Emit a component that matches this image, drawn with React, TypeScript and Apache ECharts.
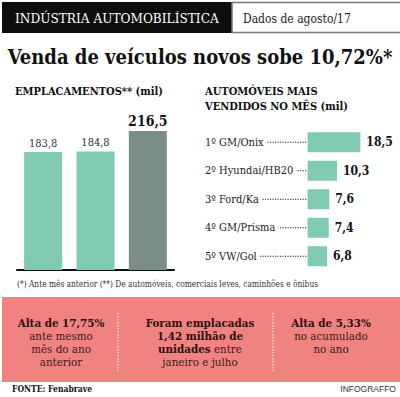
import React, { useEffect, useRef } from "react";
import * as echarts from "echarts";

const monthCategories = ["Ago/16", "Jul/16", "Ago/17"];
const monthValues = [183.8, 184.8, 216.5];
const carNames = ["1º GM/Onix", "2º Hyundai/HB20", "3º Ford/Ka", "4º GM/Prisma", "5º VW/Gol"];
const carValues = [18.5, 10.3, 7.6, 7.4, 6.8];

const SLAB = '"DejaVu Serif Condensed", "DejaVu Serif", serif';
const BODY = '"DejaVu Serif Condensed", "DejaVu Serif", serif';
const TEAL = "#80c9b2";
const GRAY = "#7b8d88";
const PINK = "#f0837f";
const fmt = (v: number) => v.toFixed(1).replace(".", ",");

export default function App() {
  const ref = useRef<HTMLDivElement>(null);
  useEffect(() => {
    if (!ref.current) return;
    const chart = echarts.init(ref.current, null, { renderer: "svg" });
    const xMinRight = -36;
    chart.setOption({
      animation: false,
      backgroundColor: "#ffffff",
      grid: [
        { left: 17, width: 157, top: 100, height: 170 },
        { left: 205, width: 191, top: 128, height: 142.5 },
      ],
      xAxis: [
        {
          type: "category",
          gridIndex: 0,
          data: monthCategories,
          axisLine: { lineStyle: { color: "#111", width: 2 } },
          axisTick: { show: false },
          axisLabel: {
            inside: true,
            margin: 6,
            fontFamily: SLAB,
            fontWeight: "bold",
            fontSize: 11,
            color: (_v: string, i: number) => (i === 2 ? "#e8eeec" : "#1d2b27"),
          },
        },
        { type: "value", gridIndex: 1, min: xMinRight, max: 31, show: false },
      ],
      yAxis: [
        { type: "value", gridIndex: 0, min: 0, max: 265, show: false },
        {
          type: "category",
          gridIndex: 1,
          data: carNames,
          inverse: true,
          z: 10,
          axisLine: { show: false },
          axisTick: { show: false },
          axisLabel: {
            inside: true,
            margin: 0,
            fontFamily: BODY,
            fontSize: 11,
            color: "#222",
            backgroundColor: "#ffffff",
            padding: [2, 3, 2, 0],
          },
        },
      ],
      series: [
        {
          type: "bar",
          xAxisIndex: 0,
          yAxisIndex: 0,
          barWidth: 38,
          data: monthValues.map((v, i) => ({
            value: v,
            itemStyle: { color: i === 2 ? GRAY : TEAL },
            label:
              i === 2
                ? { fontWeight: "bold", fontSize: 14, color: "#111", fontFamily: SLAB }
                : { fontWeight: "normal", fontSize: 11, color: "#333", fontFamily: BODY },
          })),
          label: { show: true, position: "top", distance: 3, formatter: (p: any) => fmt(p.value) },
        },
        {
          type: "custom",
          xAxisIndex: 1,
          yAxisIndex: 1,
          z: 1,
          data: carNames.map((n, i) => [0, i]),
          renderItem: (_params: any, api: any) => {
            const idx = api.value(1);
            const a = api.coord([xMinRight, idx]);
            const b = api.coord([0, idx]);
            return {
              type: "line",
              shape: { x1: a[0], y1: a[1], x2: b[0], y2: b[1] },
              style: { stroke: "#222", lineWidth: 1.2, lineDash: [1.2, 1.3] },
            };
          },
        },
        {
          type: "bar",
          xAxisIndex: 1,
          yAxisIndex: 1,
          barWidth: 20,
          z: 3,
          itemStyle: { color: TEAL },
          data: carValues,
          label: {
            show: true,
            position: "right",
            distance: 6,
            fontFamily: SLAB,
            fontWeight: "bold",
            fontSize: 12,
            color: "#111",
            formatter: (p: any) => fmt(p.value),
          },
        },
      ],
      graphic: [
        { type: "rect", shape: { x: 2, y: 2, width: 230, height: 31 }, style: { fill: "#0d0d0d" } },
        {
          type: "text",
          style: { text: "INDÚSTRIA AUTOMOBILÍSTICA", x: 15, y: 18, verticalAlign: "middle", fill: "#fff", font: `13.5px ${SLAB}` },
        },
        {
          type: "rect",
          shape: { x: 232, y: 2.5, width: 170, height: 30 },
          style: { fill: "#fff", stroke: "#777", lineWidth: 1.5 },
        },
        {
          type: "text",
          style: { text: "Dados de agosto/17", x: 243, y: 19, verticalAlign: "middle", fill: "#222", font: `12px ${BODY}` },
        },
        {
          type: "text",
          style: {
            text: "Venda de veículos novos sobe 10,72%*",
            x: 200,
            y: 57,
            align: "center",
            verticalAlign: "middle",
            fill: "#111",
            font: `bold 20px ${SLAB}`,
          },
        },
        {
          type: "text",
          style: { text: "EMPLACAMENTOS** (mil)", x: 15, y: 91, verticalAlign: "middle", fill: "#111", font: `bold 11px ${SLAB}` },
        },
        {
          type: "text",
          style: {
            text: "AUTOMÓVEIS MAIS\nVENDIDOS NO MÊS (mil)",
            x: 205,
            y: 84,
            lineHeight: 15,
            verticalAlign: "top",
            fill: "#111",
            font: `bold 11px ${SLAB}`,
          },
        },
        {
          type: "text",
          style: {
            text: "(*) Ante mês anterior (**) De automóveis, comerciais leves, caminhões e ônibus",
            x: 17,
            y: 284,
            verticalAlign: "middle",
            fill: "#333",
            font: `8.3px ${BODY}`,
          },
        },
        { type: "rect", shape: { x: 2, y: 297, width: 400, height: 85 }, style: { fill: PINK } },
        { type: "line", shape: { x1: 118, y1: 313, x2: 118, y2: 371 }, style: { stroke: "#fff", lineWidth: 1, lineDash: [1.5, 1.5] } },
        { type: "line", shape: { x1: 273, y1: 313, x2: 273, y2: 371 }, style: { stroke: "#fff", lineWidth: 1, lineDash: [1.5, 1.5] } },
        {
          type: "text",
          style: {
            text: "{b|Alta de 17,75%}\n{n|ante mesmo}\n{n|mês do ano}\n{n|anterior}",
            x: 61,
            y: 316,
            align: "center",
            verticalAlign: "top",
            rich: {
              b: { font: `bold 11.5px ${SLAB}`, fill: "#2a1212", lineHeight: 13, align: "center" },
              n: { font: `11.5px ${BODY}`, fill: "#3a1c1c", lineHeight: 13, align: "center" },
            },
          },
        },
        {
          type: "text",
          style: {
            text: "{b|Foram emplacadas}\n{b|1,42 milhão de}\n{b|unidades}{n| entre}\n{n|janeiro e julho}",
            x: 200,
            y: 316,
            align: "center",
            verticalAlign: "top",
            rich: {
              b: { font: `bold 11.5px ${SLAB}`, fill: "#2a1212", lineHeight: 13 },
              n: { font: `11.5px ${BODY}`, fill: "#3a1c1c", lineHeight: 13 },
            },
          },
        },
        {
          type: "text",
          style: {
            text: "{b|Alta de 5,33%}\n{n|no acumulado}\n{n|no ano}",
            x: 331,
            y: 316,
            align: "center",
            verticalAlign: "top",
            rich: {
              b: { font: `bold 11.5px ${SLAB}`, fill: "#2a1212", lineHeight: 13 },
              n: { font: `11.5px ${BODY}`, fill: "#3a1c1c", lineHeight: 13 },
            },
          },
        },
        {
          type: "text",
          style: { text: "FONTE: Fenabrave", x: 12, y: 389, verticalAlign: "middle", fill: "#111", font: `bold 8.5px ${SLAB}` },
        },
        {
          type: "text",
          style: {
            text: "INFOGRAFFO",
            x: 396,
            y: 389,
            align: "right",
            verticalAlign: "middle",
            fill: "#333",
            font: '8.5px "Liberation Sans", sans-serif',
          },
        },
      ],
    });
    return () => chart.dispose();
  }, []);
  return (
    <div
      ref={ref}
      style={{ position: "fixed", left: 0, top: 0, width: 400, height: 397, background: "#fff" }}
    />
  );
}
